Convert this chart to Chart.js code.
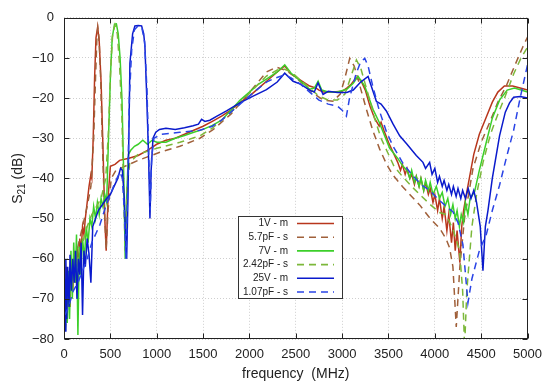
<!DOCTYPE html>
<html>
<head>
<meta charset="utf-8">
<script src="https://cdn.jsdelivr.net/npm/chart.js@4.4.0/dist/chart.umd.min.js"></script>
<style>
  body { margin: 0; background: #fff; }
  canvas { display: block; }
</style>
</head>
<body>
<canvas id="grafico" width="550" height="388"></canvas>
<script>
// Datos: [frecuencia (MHz), S21 (dB)]

const med1V = [[5,-66],[15,-74],[25,-62],[35,-70],[50,-64],[65,-72],[80,-60],[95,-68],[110,-58],[125,-66],[140,-57],[155,-62],[170,-55],[185,-58],[200,-52],[215,-54],[230,-50],[250,-46],[270,-42],[290,-39],[300,-40],[315,-30],[330,-15],[345,-5],[363,-2.3],[380,-6],[400,-16],[420,-32],[440,-50],[455,-58],[475,-45],[500,-37],[550,-36.5],[600,-35.5],[700,-35],[800,-34.3],[900,-33],[1000,-31.5],[1100,-30.5],[1200,-30],[1300,-29],[1400,-28],[1500,-27],[1600,-25.8],[1700,-24.5],[1800,-23],[1900,-21],[2000,-19.5],[2100,-17.5],[2200,-15.5],[2300,-13.5],[2381,-12],[2450,-14],[2550,-15.5],[2650,-17],[2720,-17.5],[2750,-18],[2800,-18.5],[2900,-18.5],[3000,-18.3],[3050,-17.5],[3100,-16.5],[3150,-15],[3200,-15.5],[3250,-18],[3300,-22],[3350,-25],[3400,-27],[3420,-26],[3450,-28],[3500,-31],[3600,-36],[3630,-38],[3650,-36.5],[3680,-39],[3700,-37.5],[3730,-40],[3750,-39],[3780,-41.5],[3800,-39.5],[3830,-42],[3850,-40],[3880,-43],[3900,-41],[3930,-44],[3950,-42.5],[3980,-46],[4000,-44],[4030,-48],[4050,-45],[4080,-50],[4100,-47],[4130,-53],[4150,-49],[4180,-56],[4200,-51],[4220,-58],[4240,-53],[4270,-61],[4290,-52],[4310,-48],[4340,-44],[4380,-39],[4420,-34],[4480,-29],[4550,-25],[4620,-21],[4680,-18.5],[4750,-17],[4840,-17],[4920,-17.5],[5000,-18]];

const sim57pF = [[10,-78],[50,-70],[100,-63],[150,-57],[200,-52],[250,-47],[290,-42],[320,-30],[340,-15],[355,-5],[365,-2.5],[378,-5],[395,-15],[415,-32],[440,-50],[455,-57.6],[475,-48],[510,-40],[560,-38],[675,-36.8],[800,-35.5],[1034,-33.5],[1250,-32],[1466,-30],[1600,-28],[1700,-26],[1800,-24],[1950,-20],[2076,-16.5],[2184,-13.5],[2292,-12.3],[2400,-13.2],[2500,-14.8],[2600,-17],[2700,-19],[2800,-20.5],[2900,-20.8],[2980,-19],[3030,-15],[3082,-10.1],[3130,-12],[3180,-16],[3262,-22.8],[3330,-28],[3405,-32.7],[3480,-36.5],[3549,-39.2],[3650,-42],[3750,-44.5],[3836,-46.6],[3950,-50],[4052,-52.4],[4120,-55],[4159,-57.3],[4195,-62],[4231,-77],[4270,-62],[4320,-50],[4411,-37.6],[4500,-31],[4591,-26.1],[4680,-21],[4770,-17],[4860,-12],[4950,-7.2],[5000,-4.8]];

const med7V = [[5,-72],[15,-78],[25,-66],[35,-76],[50,-63],[60,-75],[75,-58],[90,-70],[105,-56],[120,-66],[135,-54],[150,-79],[165,-57],[180,-64],[200,-55],[220,-60],[240,-52],[260,-56],[280,-50],[300,-52],[320,-47],[340,-50],[360,-46],[380,-49],[400,-45],[420,-47],[440,-44],[460,-46],[480,-30],[500,-15],[520,-5],[545,-1.6],[565,-1.5],[585,-4],[605,-10],[625,-20],[645,-40],[660,-60],[675,-45],[695,-34],[720,-33],[760,-32],[800,-31.5],[850,-30.5],[900,-31.5],[950,-30.5],[1000,-31],[1100,-31],[1200,-30],[1300,-29.3],[1400,-28.5],[1500,-27.8],[1600,-26.8],[1700,-25.5],[1800,-23],[1900,-20.5],[2000,-18.5],[2100,-16.5],[2200,-15],[2300,-13.5],[2381,-11.7],[2450,-13.8],[2550,-15.7],[2650,-17.8],[2700,-17.5],[2741,-15.8],[2780,-18],[2850,-18.5],[2950,-18.5],[3050,-17.8],[3120,-16.3],[3172,-14.6],[3244,-17],[3333,-22.8],[3400,-26],[3513,-32.5],[3600,-35],[3657,-37],[3700,-38],[3730,-40],[3750,-38],[3780,-41],[3800,-39.5],[3830,-42],[3850,-40],[3880,-43],[3900,-40.5],[3930,-43],[3950,-41],[3980,-44],[4016,-42],[4050,-45],[4080,-43.5],[4110,-47],[4140,-45],[4170,-49],[4195,-46.5],[4220,-50],[4240,-48],[4265,-52],[4285,-49],[4310,-51],[4330,-46],[4357,-49],[4380,-45],[4429,-43.3],[4480,-38],[4555,-31],[4620,-25],[4698,-20.5],[4780,-18],[4860,-17.5],[4930,-18],[5000,-18.5]];

const sim242pF = [[10,-76],[50,-70],[100,-65],[150,-60],[200,-56],[250,-52],[300,-49],[350,-47],[400,-45],[450,-40],[480,-28],[505,-12],[525,-4],[550,-1.8],[575,-4],[600,-12],[625,-25],[645,-45],[660,-58],[680,-42],[710,-36],[800,-34],[1000,-32.5],[1250,-31],[1466,-29.4],[1600,-27.5],[1700,-25.5],[1800,-23.5],[1950,-20],[2076,-17],[2184,-14.5],[2300,-13],[2381,-12.8],[2450,-13.5],[2550,-15.5],[2650,-17.5],[2750,-19.5],[2850,-20.5],[2950,-20.5],[3030,-19],[3090,-15],[3154,-10.5],[3200,-12.5],[3280,-19],[3350,-25],[3420,-30],[3500,-34],[3560,-37],[3650,-39.5],[3750,-42],[3836,-44],[3950,-46.5],[4050,-48.5],[4123,-49],[4200,-53],[4267,-58],[4300,-68],[4321,-82],[4345,-68],[4400,-52],[4450,-44],[4520,-36],[4600,-29],[4680,-24],[4760,-19.5],[4850,-14],[4930,-10],[5000,-7.3]];

const med25V = [[5,-65],[12,-78],[20,-60],[30,-75],[40,-62],[55,-72],[65,-59],[80,-68],[95,-60],[110,-66],[125,-58],[140,-70],[155,-60],[170,-64],[185,-56],[200,-74],[215,-58],[230,-62],[250,-55],[270,-59],[290,-66],[310,-52],[340,-50],[370,-48],[400,-47],[430,-46],[460,-45],[500,-44],[540,-42],[580,-40],[610,-37.5],[630,-38],[650,-45],[670,-58],[676,-60],[690,-45],[711,-11.3],[740,-4],[765,-2],[800,-1.9],[837,-2],[860,-4],[873,-7.2],[890,-18],[909,-31.8],[920,-42],[927,-50],[940,-38],[960,-30],[990,-28.5],[1030,-27.8],[1100,-27.5],[1200,-27.8],[1300,-27.4],[1393,-26.9],[1450,-26.5],[1484,-25.3],[1520,-25.8],[1573,-25.5],[1650,-24.5],[1753,-23.2],[1897,-21.2],[2040,-19.5],[2184,-17.9],[2300,-16],[2381,-13.8],[2471,-15.8],[2550,-16.5],[2650,-18],[2700,-18.5],[2740,-16.2],[2794,-19.1],[2850,-18.3],[2950,-18.6],[3050,-18.6],[3120,-18],[3200,-16],[3280,-14.6],[3369,-20.8],[3420,-21.5],[3477,-23.2],[3550,-26.5],[3621,-29.4],[3700,-31.5],[3800,-34.3],[3872,-36],[3900,-37.5],[3944,-36],[3970,-39],[4000,-37.5],[4030,-41],[4050,-39.5],[4080,-42],[4100,-40.5],[4130,-43],[4150,-41.5],[4180,-44],[4200,-42],[4230,-44.5],[4250,-42.5],[4280,-45],[4300,-43],[4330,-45],[4360,-42.5],[4390,-45],[4420,-43],[4450,-46],[4490,-52],[4519,-63],[4545,-52],[4573,-48],[4620,-40],[4698,-29.4],[4760,-23.5],[4806,-21.2],[4850,-19.8],[4920,-19.6],[5000,-20]];

const sim107pF = [[10,-74],[50,-72],[100,-68],[150,-66],[200,-63],[250,-60],[300,-56],[388,-51.5],[450,-47],[500,-44],[550,-41],[603,-38.4],[630,-40],[650,-48],[668,-60],[685,-45],[705,-20],[730,-8],[760,-3],[800,-2],[840,-2.5],[870,-6],[895,-18],[915,-35],[930,-48],[945,-35],[970,-30],[1050,-29],[1250,-28.5],[1466,-28],[1600,-27],[1700,-25.5],[1800,-23.5],[1950,-20.5],[2076,-18],[2184,-16],[2280,-15],[2381,-14.2],[2450,-15],[2550,-16.5],[2650,-18.5],[2750,-20.5],[2850,-21.5],[2950,-22],[3000,-23],[3046,-24.5],[3080,-20],[3150,-14],[3200,-11],[3244,-10.1],[3280,-12],[3330,-17],[3400,-23],[3480,-28.5],[3550,-32],[3650,-36],[3750,-39],[3850,-41.5],[3944,-43],[4050,-45.5],[4150,-47.5],[4195,-48.3],[4250,-51],[4303,-56.5],[4357,-71],[4400,-65],[4480,-58],[4555,-54],[4620,-48],[4698,-41.7],[4770,-35],[4850,-28],[4920,-20],[5000,-11.7]];

const series = [med1V, sim57pF, med7V, sim242pF, med25V, sim107pF];
const etiquetas = ["1V - m", "5.7pF - s", "7V - m", "2.42pF - s", "25V - m", "1.07pF - s"];
const colores = ["#b8361c", "#a0603a", "#3ccf2a", "#7cb83a", "#0a1acc", "#2a44e6"];
const discontinua = [false, true, false, true, false, true];

const freqTicks = [0, 500, 1000, 1500, 2000, 2500, 3000, 3500, 4000, 4500, 5000];
const dbTicks = [0, -10, -20, -30, -40, -50, -60, -70, -80];

const FUENTE = "'Liberation Sans', Arial, sans-serif";

// Marco, marcas interiores, leyenda y títulos
const extras = {
    id: "extras",
    afterDraw(chart) {
        const ctx = chart.ctx;
        const a = chart.chartArea;
        const sx = chart.scales.x;
        const sy = chart.scales.y;
        const L = Math.round(a.left) + 0.5, R = Math.round(a.right) - 0.5;
        const T = Math.round(a.top) + 0.5, B = Math.round(a.bottom) - 0.5;
        ctx.save();

        ctx.strokeStyle = "#222";
        ctx.lineWidth = 1;
        ctx.beginPath();
        freqTicks.forEach((v) => {
            const px = Math.round(sx.getPixelForValue(v)) + 0.5;
            ctx.moveTo(px, B); ctx.lineTo(px, B - 5);
            ctx.moveTo(px, T); ctx.lineTo(px, T + 5);
        });
        dbTicks.forEach((v) => {
            const py = Math.round(sy.getPixelForValue(v)) + 0.5;
            ctx.moveTo(L, py); ctx.lineTo(L + 5, py);
            ctx.moveTo(R, py); ctx.lineTo(R - 5, py);
        });
        ctx.stroke();
        ctx.strokeRect(L, T, R - L, B - T);

        // leyenda
        const bx = 238.5, by = 216.5, bw = 104, bh = 82;
        ctx.fillStyle = "#fff";
        ctx.fillRect(bx, by, bw, bh);
        ctx.strokeStyle = "#333";
        ctx.strokeRect(bx, by, bw, bh);
        ctx.font = "10px " + FUENTE;
        ctx.textAlign = "right";
        ctx.textBaseline = "middle";
        chart.data.datasets.forEach((ds, i) => {
            const yy = 223.5 + i * 13.7;
            ctx.fillStyle = "#222";
            ctx.fillText(ds.label, 288, yy);
            ctx.strokeStyle = ds.borderColor;
            ctx.lineWidth = 1.6;
            ctx.setLineDash(ds.borderDash || []);
            ctx.beginPath();
            ctx.moveTo(297, yy);
            ctx.lineTo(334, yy);
            ctx.stroke();
            ctx.setLineDash([]);
        });

        // título eje x
        ctx.fillStyle = "#222";
        ctx.textAlign = "center";
        ctx.textBaseline = "middle";
        ctx.font = "14px " + FUENTE;
        ctx.fillText("frequency  (MHz)", (a.left + a.right) / 2, 374);

        // título eje y con subíndice
        ctx.translate(18, (a.top + a.bottom) / 2);
        ctx.rotate(-Math.PI / 2);
        ctx.textAlign = "left";
        const wS = ctx.measureText("S").width;
        ctx.font = "10px " + FUENTE;
        const wSub = ctx.measureText("21").width;
        ctx.font = "14px " + FUENTE;
        const wRest = ctx.measureText(" (dB)").width;
        let x0 = -(wS + wSub + wRest) / 2;
        ctx.fillText("S", x0, 0);
        ctx.font = "10px " + FUENTE;
        ctx.fillText("21", x0 + wS, 4);
        ctx.font = "14px " + FUENTE;
        ctx.fillText(" (dB)", x0 + wS + wSub, 0);
        ctx.restore();
    }
};

function menos(v) {
    return String(v).replace("-", "\u2212");
}

function cargaGrafico() {
    const datasets = series.map((s, i) => ({
        label: etiquetas[i],
        data: s.map((p) => ({ x: p[0], y: p[1] })),
        borderColor: colores[i],
        borderWidth: 1.5,
        borderDash: discontinua[i] ? [7, 5] : undefined,
        pointRadius: 0,
        tension: 0,
        fill: false,
        order: 5 - i
    }));

    const config = {
        type: "line",
        data: { datasets: datasets },
        options: {
            responsive: false,
            animation: false,
            layout: { padding: { left: 0, top: 14, right: 22, bottom: 0 } },
            plugins: {
                legend: { display: false },
                tooltip: { enabled: false }
            },
            scales: {
                x: {
                    type: "linear",
                    min: 0,
                    max: 5000,
                    afterBuildTicks: (s) => { s.ticks = freqTicks.map((v) => ({ value: v })); },
                    afterFit: (s) => { s.height = 49; },
                    grid: { color: "#cfcfcf", drawTicks: false },
                    border: { display: false, dash: [1, 2] },
                    ticks: {
                        padding: 8,
                        maxRotation: 0,
                        color: "#222",
                        font: { family: FUENTE, size: 13 },
                        callback: (v) => String(v)
                    }
                },
                y: {
                    min: -80,
                    max: 0,
                    afterBuildTicks: (s) => { s.ticks = dbTicks.map((v) => ({ value: v })); },
                    afterFit: (s) => { s.width = 64; },
                    grid: { color: "#cfcfcf", drawTicks: false },
                    border: { display: false, dash: [1, 2] },
                    ticks: {
                        padding: 10,
                        color: "#222",
                        font: { family: FUENTE, size: 13 },
                        callback: (v) => menos(v)
                    }
                }
            }
        },
        plugins: [extras]
    };

    const ctx = document.getElementById("grafico").getContext("2d");
    new Chart(ctx, config);
}

cargaGrafico();
</script>
</body>
</html>
